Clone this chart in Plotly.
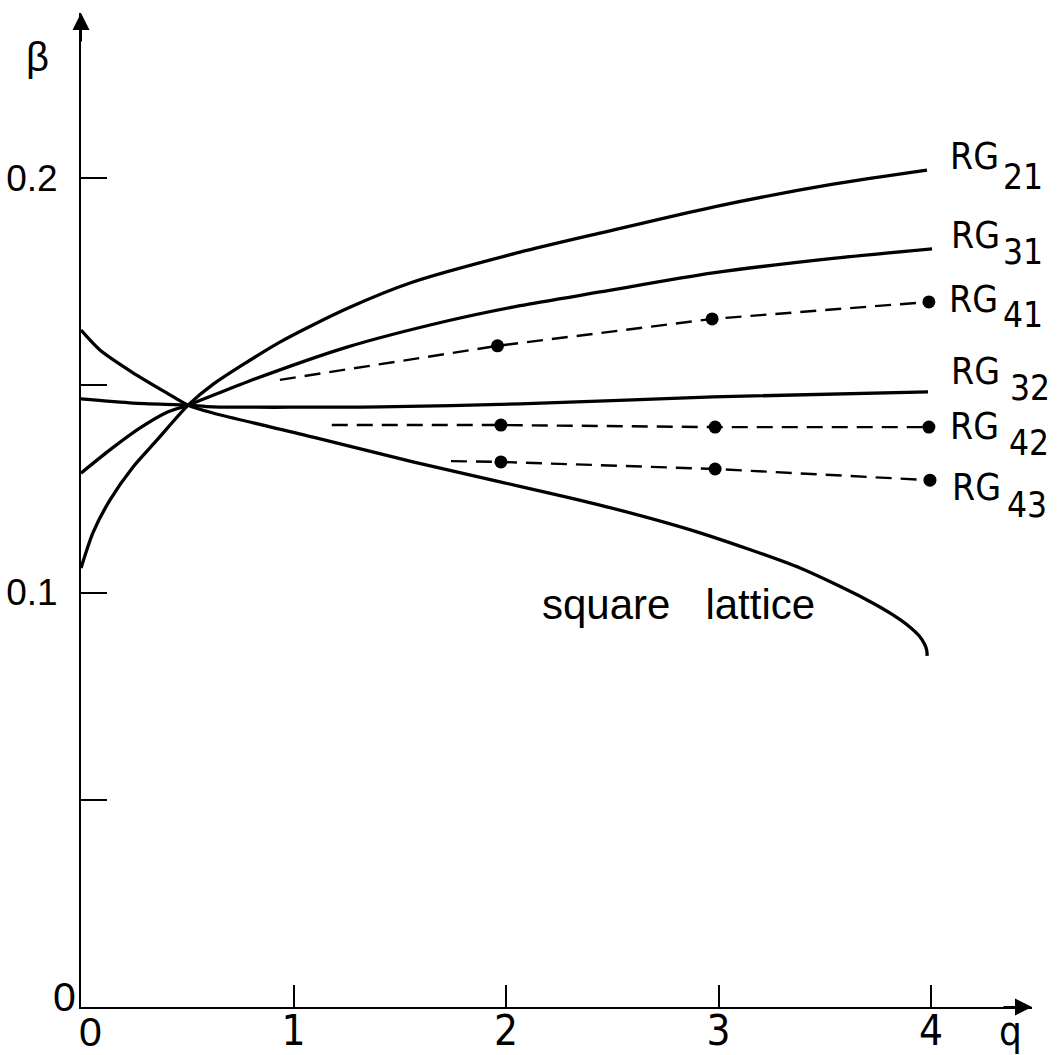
import plotly.graph_objects as go

# ---------------- data ----------------
rg21_q = [0.0, 0.056, 0.136, 0.245, 0.358, 0.504, 0.621, 0.936, 1.252, 1.562, 2.066, 2.442, 2.974, 3.539, 3.981]
rg21_b = [0.1059, 0.1144, 0.1223, 0.1303, 0.1368, 0.1452, 0.1502, 0.1604, 0.1685, 0.1749, 0.1821, 0.1867, 0.1930, 0.1985, 0.2019]

rg31_q = [0.0, 0.136, 0.278, 0.405, 0.504, 0.781, 1.252, 1.722, 2.066, 2.442, 2.974, 3.539, 4.005]
rg31_b = [0.1288, 0.1344, 0.1397, 0.1435, 0.1452, 0.1508, 0.1592, 0.1655, 0.1692, 0.1725, 0.1771, 0.1806, 0.1829]

rg32_q = [0.0, 0.245, 0.504, 0.621, 1.407, 2.066, 2.974, 3.986]
rg32_b = [0.1467, 0.1457, 0.1452, 0.1448, 0.1448, 0.1455, 0.1472, 0.1484]

sq_q = [0.0, 0.089, 0.245, 0.405, 0.504, 0.621, 1.092, 1.562, 1.972, 2.442, 2.913, 3.384, 3.699, 3.821, 3.90, 3.945, 3.970, 3.980, 3.982]
sq_b = [0.1633, 0.1585, 0.1530, 0.1481, 0.1452, 0.1433, 0.1375, 0.1315, 0.1267, 0.1211, 0.1144, 0.1059, 0.0982, 0.0946, 0.0917, 0.0895, 0.0875, 0.0860, 0.0847]

# dashed RG4x lines: start of dashed segment, then the dot points
rg41_start = (0.936, 0.1513)
rg41_q = [1.96, 2.97, 3.99]
rg41_b = [0.1595, 0.1660, 0.1701]

rg42_start = (1.18, 0.1404)
rg42_q = [1.976, 2.984, 3.99]
rg42_b = [0.1404, 0.1399, 0.1399]

rg43_start = (1.741, 0.1317)
rg43_q = [1.976, 2.984, 3.995]
rg43_b = [0.1315, 0.1298, 0.1271]

x_tickvals = [1, 2, 3, 4]
x_ticktext = ["1", "2", "3", "4"]
y_tickvals = [0.05, 0.1, 0.15, 0.2]
y_ticktext = ["", "0.1", "", "0.2"]

# ---------------- layout geometry ----------------
W, H = 1061, 1055
L, R, T, B = 81, 29, 13, 48
PX_PER_Q = 212.5
PX_PER_B = 4145.0
plot_w = W - L - R
plot_h = H - T - B
x_range = [0, plot_w / PX_PER_Q]
y_range = [0, plot_h / PX_PER_B]


def px(xp):
    return (xp - L) / plot_w


def py(yp):
    return (H - B - yp) / plot_h


COND = "DejaVu Sans Condensed, Liberation Sans, Arial"
REG = "Liberation Sans, Arial"

fig = go.Figure()

solid = dict(color="black", width=3.3, shape="spline", smoothing=0.7)
for q, b in [(rg21_q, rg21_b), (rg31_q, rg31_b), (rg32_q, rg32_b), (sq_q, sq_b)]:
    fig.add_trace(go.Scatter(x=q, y=b, mode="lines", line=solid, hoverinfo="skip"))

for start, q, b in [(rg41_start, rg41_q, rg41_b), (rg42_start, rg42_q, rg42_b), (rg43_start, rg43_q, rg43_b)]:
    fig.add_trace(go.Scatter(x=[start[0]] + q, y=[start[1]] + b, mode="lines",
                             line=dict(color="black", width=2.4, dash="16px,9px"), hoverinfo="skip"))
    fig.add_trace(go.Scatter(x=q, y=b, mode="markers",
                             marker=dict(color="black", size=13), hoverinfo="skip"))

ann = []
labels = [
    ("21", 974, 157, 1023, 177),
    ("31", 975, 236, 1023, 252),
    ("41", 973, 299, 1023, 315),
    ("32", 975, 371, 1030, 388),
    ("42", 974, 426, 1029, 443),
    ("43", 976, 488, 1027, 505),
]
for sub, x1, y1, x2, y2 in labels:
    ann.append(dict(text="RG", x=px(x1), y=py(y1), xref="paper", yref="paper",
                    showarrow=False, xanchor="center", yanchor="middle",
                    font=dict(family=COND, size=37, color="black")))
    ann.append(dict(text=sub, x=px(x2), y=py(y2), xref="paper", yref="paper",
                    showarrow=False, xanchor="center", yanchor="middle",
                    font=dict(family=COND, size=35, color="black")))

ann.append(dict(text="square\u00a0\u00a0\u00a0lattice", x=px(678), y=py(604), xref="paper", yref="paper",
                showarrow=False, xanchor="center", yanchor="middle",
                font=dict(family=REG, size=42, color="black")))
ann.append(dict(text="β", x=px(37), y=py(57), xref="paper", yref="paper",
                showarrow=False, xanchor="center", yanchor="middle",
                font=dict(family=REG, size=40, color="black")))
ann.append(dict(text="q", x=px(1010), y=py(1031), xref="paper", yref="paper",
                showarrow=False, xanchor="center", yanchor="middle",
                font=dict(family=COND, size=40, color="black")))
ann.append(dict(text="0", x=px(64), y=py(997), xref="paper", yref="paper",
                showarrow=False, xanchor="center", yanchor="middle",
                font=dict(family=REG, size=41, color="black")))
ann.append(dict(text="0", x=px(90), y=py(1032), xref="paper", yref="paper",
                showarrow=False, xanchor="center", yanchor="middle",
                font=dict(family=REG, size=41, color="black")))
# axis arrowheads
ann.append(dict(x=1, y=0, xref="paper", yref="paper", ax=-30, ay=0, text="",
                showarrow=True, arrowhead=2, arrowwidth=2, arrowsize=1.7, arrowcolor="black", standoff=0))
ann.append(dict(x=0, y=1, xref="paper", yref="paper", ax=0, ay=30, text="",
                showarrow=True, arrowhead=2, arrowwidth=2, arrowsize=1.7, arrowcolor="black", standoff=0))

fig.update_layout(
    width=W, height=H,
    margin=dict(l=L, r=R, t=T, b=B, pad=0, autoexpand=False),
    paper_bgcolor="white", plot_bgcolor="white",
    showlegend=False,
    annotations=ann,
    xaxis=dict(range=x_range, showgrid=False, zeroline=False, showline=True, automargin=False,
               linecolor="black", linewidth=2, ticks="inside", ticklen=22, tickwidth=2,
               tickcolor="black", tickvals=x_tickvals, ticktext=x_ticktext,
               tickfont=dict(family=COND, size=42, color="black"), ticklabelstandoff=-14),
    yaxis=dict(range=y_range, showgrid=False, zeroline=False, showline=True, automargin=False,
               linecolor="black", linewidth=2, ticks="inside", ticklen=26, tickwidth=2,
               tickcolor="black", tickvals=y_tickvals, ticktext=y_ticktext,
               tickfont=dict(family=REG, size=37, color="black"), ticklabelstandoff=14),
)

fig.write_html("out.html", config={"displayModeBar": False},
               post_script="document.body.style.margin='0';")
